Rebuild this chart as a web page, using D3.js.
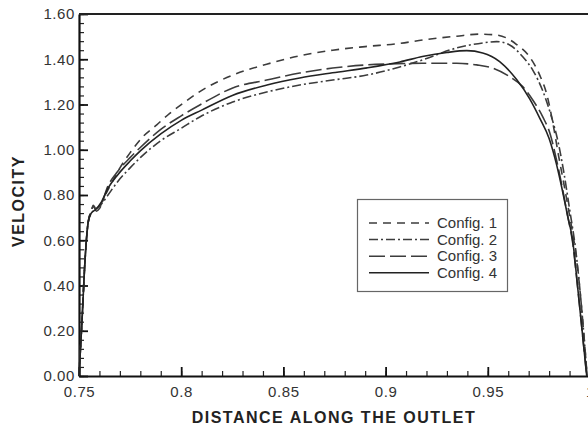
<!DOCTYPE html>
<html>
<head>
<meta charset="utf-8">
<script src="https://cdn.jsdelivr.net/npm/d3@7"></script>
<style>
  body { margin: 0; background: #fff; }
  text { font-family: "Liberation Sans", Arial, Helvetica, sans-serif; }
  .tick text { font-size: 15px; fill: #333; letter-spacing: 0.6px; }
  .axis-title { font-size: 16px; font-weight: bold; fill: #222; letter-spacing: 1.5px; }
  .legend text { font-size: 15px; fill: #333; }
</style>
</head>
<body>
<div id="chart"></div>
<script>
// tick values and labels
var xTicks = [0.75, 0.8, 0.85, 0.9, 0.95, 1.0];
var xTickLabels = ["0.75", "0.8", "0.85", "0.9", "0.95", "1"];
var yTicks = [0, 0.2, 0.4, 0.6, 0.8, 1.0, 1.2, 1.4, 1.6];
var yTickLabels = ["0.00", "0.20", "0.40", "0.60", "0.80", "1.00", "1.20", "1.40", "1.60"];

var configNames = ["Config. 1", "Config. 2", "Config. 3", "Config. 4"];

// [distance, velocity]
var config1 = [
  [0.750, 0], [0.7515, 0.25], [0.7530, 0.52], [0.7545, 0.68], [0.7560, 0.73],
  [0.7570, 0.755], [0.7585, 0.735], [0.7600, 0.745], [0.7617, 0.778], [0.7659, 0.852],
  [0.7699, 0.918], [0.7748, 0.984], [0.7813, 1.058], [0.7879, 1.109], [0.7944, 1.161],
  [0.8009, 1.205], [0.8091, 1.257], [0.8252, 1.330], [0.8418, 1.378], [0.8580, 1.415],
  [0.8741, 1.440], [0.8900, 1.456], [0.9069, 1.470], [0.9181, 1.485], [0.9348, 1.502],
  [0.9460, 1.511], [0.9543, 1.507], [0.9592, 1.494], [0.9641, 1.465], [0.9705, 1.410],
  [0.9754, 1.330], [0.9790, 1.240], [0.9820, 1.110], [0.9847, 0.970], [0.9872, 0.850],
  [0.9896, 0.730], [0.9935, 0.510], [0.9955, 0.340], [0.9972, 0.160], [0.9986, 0]
];
var config2 = [
  [0.750, 0], [0.7515, 0.25], [0.7530, 0.52], [0.7545, 0.68], [0.7560, 0.72],
  [0.7580, 0.735], [0.7610, 0.760], [0.7642, 0.800], [0.7690, 0.860], [0.7750, 0.920],
  [0.7800, 0.965], [0.7900, 1.040], [0.8000, 1.095], [0.8091, 1.145], [0.8252, 1.211],
  [0.8418, 1.255], [0.8580, 1.286], [0.8741, 1.308], [0.8908, 1.330], [0.9069, 1.366],
  [0.9181, 1.397], [0.9348, 1.450], [0.9475, 1.472], [0.9543, 1.478], [0.9607, 1.463],
  [0.9671, 1.411], [0.9720, 1.352], [0.9769, 1.260], [0.9810, 1.150], [0.9845, 1.030],
  [0.9872, 0.900], [0.9898, 0.750], [0.9935, 0.520], [0.9955, 0.340], [0.9972, 0.160],
  [0.9986, 0]
];
var config3 = [
  [0.750, 0], [0.7515, 0.25], [0.7530, 0.52], [0.7545, 0.68], [0.7560, 0.73],
  [0.7570, 0.750], [0.7585, 0.728], [0.7600, 0.740], [0.7642, 0.840], [0.7690, 0.905],
  [0.7750, 0.965], [0.7800, 1.010], [0.7900, 1.090], [0.8000, 1.150], [0.8091, 1.198],
  [0.8252, 1.273], [0.8418, 1.308], [0.8580, 1.339], [0.8741, 1.361], [0.8908, 1.375],
  [0.9005, 1.379], [0.9181, 1.382], [0.9348, 1.382], [0.9446, 1.375], [0.9524, 1.361],
  [0.9607, 1.323], [0.9671, 1.279], [0.9720, 1.220], [0.9769, 1.145], [0.9805, 1.070],
  [0.9835, 0.960], [0.9865, 0.830], [0.9890, 0.710], [0.9915, 0.590], [0.9941, 0.380],
  [0.9966, 0.160], [0.9984, 0]
];
var config4 = [
  [0.750, 0], [0.7515, 0.25], [0.7530, 0.52], [0.7545, 0.68], [0.7560, 0.72],
  [0.7580, 0.735], [0.7610, 0.770], [0.7642, 0.830], [0.7690, 0.890], [0.7750, 0.950],
  [0.7800, 0.995], [0.7900, 1.070], [0.8000, 1.130], [0.8100, 1.175], [0.8250, 1.240],
  [0.8420, 1.286], [0.8580, 1.317], [0.8740, 1.340], [0.8910, 1.362], [0.9070, 1.388],
  [0.9180, 1.412], [0.9300, 1.430], [0.9397, 1.438], [0.9475, 1.428], [0.9558, 1.390],
  [0.9641, 1.310], [0.9705, 1.225], [0.9754, 1.140], [0.9800, 1.050], [0.9835, 0.940],
  [0.9865, 0.820], [0.9890, 0.710], [0.9915, 0.600], [0.9941, 0.380], [0.9966, 0.160],
  [0.9984, 0]
];

var series = [config1, config2, config3, config4];
var dashes = ["8,6", "9,3,2,3", "16,5", null];

var svgWidth = 588;
var svgHeight = 426;
var margin = { top: 14, right: -2, bottom: 50, left: 79 };
var width = svgWidth - margin.left - margin.right;
var height = svgHeight - margin.top - margin.bottom;

var svg = d3.select("#chart")
  .append("svg")
  .attr("width", svgWidth)
  .attr("height", svgHeight);

var chartGroup = svg.append("g")
  .attr("transform", `translate(${margin.left}, ${margin.top})`);

var x = d3.scaleLinear().domain([0.75, 1.0]).range([0, width]);
var y = d3.scaleLinear().domain([0, 1.6]).range([height, 0]);

// minor ticks (inward)
var xMinor = d3.range(0.75, 1.0001, 0.01);
var yMinor = d3.range(0, 1.6001, 0.04);

chartGroup.append("g")
  .attr("transform", `translate(0, ${height})`)
  .call(d3.axisBottom(x).tickValues(xMinor).tickSize(-5).tickSizeOuter(0).tickFormat(""))
  .call(g => g.select(".domain").remove())
  .selectAll("line").attr("stroke", "#222").attr("stroke-width", 1.2);

chartGroup.append("g")
  .call(d3.axisLeft(y).tickValues(yMinor).tickSize(-5).tickSizeOuter(0).tickFormat(""))
  .call(g => g.select(".domain").remove())
  .selectAll("line").attr("stroke", "#222").attr("stroke-width", 1.2);

// major axes
var xAxis = chartGroup.append("g")
  .attr("transform", `translate(0, ${height})`)
  .call(d3.axisBottom(x)
    .tickValues(xTicks)
    .tickSize(-9)
    .tickSizeOuter(0)
    .tickPadding(10)
    .tickFormat((d, i) => xTickLabels[i]));

var yAxis = chartGroup.append("g")
  .call(d3.axisLeft(y)
    .tickValues(yTicks)
    .tickSize(-9)
    .tickSizeOuter(0)
    .tickPadding(4)
    .tickFormat((d, i) => yTickLabels[i]));

[xAxis, yAxis].forEach(function(a) {
  a.attr("font-size", null).attr("font-family", null);
  a.select(".domain").attr("stroke", "#111").attr("stroke-width", 2.2);
  a.selectAll(".tick line").attr("stroke", "#111").attr("stroke-width", 1.8);
});

// top frame line
chartGroup.append("line")
  .attr("x1", 0).attr("x2", width)
  .attr("y1", 0).attr("y2", 0)
  .attr("stroke", "#222").attr("stroke-width", 2.2);

// curves
var line = d3.line()
  .x(d => x(d[0]))
  .y(d => y(d[1]))
  .curve(d3.curveMonotoneX);

chartGroup.selectAll(".curve")
  .data(series)
  .enter()
  .append("path")
  .attr("class", "curve")
  .attr("d", line)
  .attr("fill", "none")
  .attr("stroke", (d, i) => i === 3 ? "#222" : "#3c3c3c")
  .attr("stroke-width", 1.6)
  .attr("stroke-dasharray", (d, i) => dashes[i]);

// legend
var legend = svg.append("g").attr("class", "legend");
legend.append("rect")
  .attr("x", 357.5).attr("y", 199.5)
  .attr("width", 150).attr("height", 92)
  .attr("fill", "#fff")
  .attr("stroke", "#666")
  .attr("stroke-width", 1.2);

configNames.forEach(function(name, i) {
  var ly = 223 + i * 16.6;
  legend.append("line")
    .attr("x1", 369).attr("x2", 429)
    .attr("y1", ly).attr("y2", ly)
    .attr("stroke", i === 3 ? "#222" : "#3c3c3c")
    .attr("stroke-width", 1.5)
    .attr("stroke-dasharray", dashes[i]);
  legend.append("text")
    .attr("x", 437)
    .attr("y", ly + 5)
    .text(name);
});

// axis titles
svg.append("text")
  .attr("class", "axis-title")
  .attr("x", 334)
  .attr("y", 423)
  .attr("text-anchor", "middle")
  .text("DISTANCE ALONG THE OUTLET");

svg.append("text")
  .attr("class", "axis-title")
  .attr("transform", "translate(24, 201) rotate(-90)")
  .attr("text-anchor", "middle")
  .text("VELOCITY");
</script>
</body>
</html>
